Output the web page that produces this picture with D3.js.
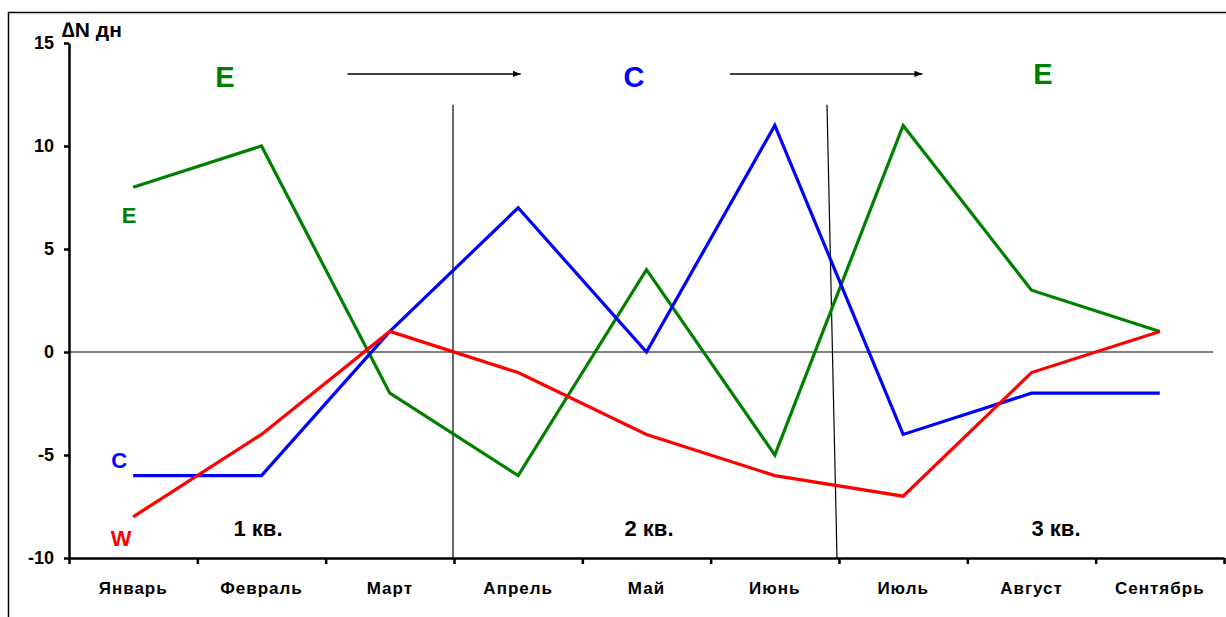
<!DOCTYPE html>
<html>
<head>
<meta charset="utf-8">
<script src="https://cdn.jsdelivr.net/npm/d3@7"></script>
<style>
  html, body { margin: 0; padding: 0; background: #fff; }
  svg { display: block; font-family: "Liberation Sans", Arial, sans-serif; }
</style>
</head>
<body>
<div id="chart"></div>
<script>
// ==== Данные ====
const months = ["Январь", "Февраль", "Март", "Апрель", "Май", "Июнь", "Июль", "Август", "Сентябрь"];
const seriesE = [8, 10, -2, -6, 4, -5, 11, 3, 1];
const seriesC = [-6, -6, 1, 7, 0, 11, -4, -2, -2];
const seriesW = [-8, -4, 1, -1, -4, -6, -7, -1, 1];
const yTicks = [-10, -5, 0, 5, 10, 15];
const quarters = ["1 кв.", "2 кв.", "3 кв."];
const phases = ["E", "C", "E"];

const W = 1226, H = 617;
const margin = { left: 69, right: 2, top: 43, bottom: 59 };

const svg = d3.select("#chart").append("svg")
  .attr("width", W).attr("height", H);

// рамка
svg.append("rect")
  .attr("x", 8.5).attr("y", 12.5)
  .attr("width", W + 10).attr("height", H + 10)
  .attr("fill", "none").attr("stroke", "#000").attr("stroke-width", 1.5);

const x = d3.scaleBand().domain(months).range([margin.left, W - margin.right]).padding(0);
const xl = d3.scaleLinear().domain([0, months.length]).range([margin.left, W - margin.right]);
const y = d3.scaleLinear().domain([-10, 15]).range([H - margin.bottom, margin.top]);
const cx = m => x(m) + x.bandwidth() / 2;

// ось Y
const gy = svg.append("g")
  .attr("transform", `translate(${margin.left},0)`)
  .call(d3.axisLeft(y).tickValues(yTicks).tickSize(5).tickSizeOuter(0).tickPadding(10)
    .tickFormat(d => String(d)));
gy.select(".domain").attr("stroke-width", 2.5);
gy.selectAll(".tick line").attr("stroke-width", 2.5);
gy.selectAll("text").style("font-size", "18px").style("font-weight", "bold").attr("fill", "#000");

// ось X: деления на границах месяцев
const gx = svg.append("g")
  .attr("transform", `translate(0,${y(-10)})`)
  .call(d3.axisBottom(xl).tickValues(d3.range(0, months.length + 1)).tickSize(6).tickSizeOuter(0).tickFormat(""));
gx.select(".domain").attr("stroke-width", 2.5);
gx.selectAll(".tick line").attr("stroke-width", 2.5);

const gxl = svg.append("g")
  .attr("transform", `translate(0,${y(-10)})`)
  .call(d3.axisBottom(x).tickSize(0).tickPadding(24));
gxl.select(".domain").remove();
gxl.selectAll("text").style("font-size", "17px").style("font-weight", "bold")
  .style("letter-spacing", "1px").attr("fill", "#000");

// нулевая линия
svg.append("line")
  .attr("x1", margin.left).attr("x2", W - 13)
  .attr("y1", y(0)).attr("y2", y(0))
  .attr("stroke", "#000").attr("stroke-width", 1);

// разделители кварталов
svg.append("line")
  .attr("x1", xl(3) - 1).attr("x2", xl(3) - 1)
  .attr("y1", y(12)).attr("y2", y(-10))
  .attr("stroke", "#000").attr("stroke-width", 1.2);
svg.append("line")
  .attr("x1", xl(6) - 12).attr("x2", xl(6) - 2)
  .attr("y1", y(12)).attr("y2", y(-10))
  .attr("stroke", "#000").attr("stroke-width", 1.2);

// стрелки
svg.append("defs").append("marker")
  .attr("id", "arr").attr("viewBox", "0 0 10 10")
  .attr("refX", 10).attr("refY", 5)
  .attr("markerWidth", 8).attr("markerHeight", 8)
  .attr("markerUnits", "userSpaceOnUse")
  .attr("orient", "auto")
  .append("path").attr("d", "M0,1 L10,5 L0,9 Z").attr("fill", "#000");
[[2.17, 3.52], [5.15, 6.65]].forEach(([a, b]) => {
  svg.append("line")
    .attr("x1", xl(a)).attr("x2", xl(b))
    .attr("y1", y(13.5)).attr("y2", y(13.5))
    .attr("stroke", "#000").attr("stroke-width", 1.5)
    .attr("marker-end", "url(#arr)");
});

// линии серий
const series = [
  { name: "E", values: seriesE, color: "#008000" },
  { name: "C", values: seriesC, color: "#0000ff" },
  { name: "W", values: seriesW, color: "#ff0000" }
];
const line = d3.line().x((d, i) => cx(months[i])).y(d => y(d));
svg.selectAll(".series")
  .data(series)
  .enter().append("path")
    .attr("class", "series")
    .attr("d", d => line(d.values))
    .attr("fill", "none")
    .attr("stroke", d => d.color)
    .attr("stroke-width", 3.2)
    .attr("stroke-linejoin", "miter");

// подписи серий
const seriesLabels = [
  { t: "E", v: 6.26, color: "#008000", dx: -4 },
  { t: "C", v: -5.63, color: "#0000ff", dx: -14 },
  { t: "W", v: -9.4, color: "#ff0000", dx: -12 }
];
svg.selectAll(".slabel")
  .data(seriesLabels)
  .enter().append("text")
    .attr("x", d => cx(months[0]) + d.dx)
    .attr("y", d => y(d.v))
    .attr("text-anchor", "middle")
    .attr("fill", d => d.color)
    .style("font-size", "22px").style("font-weight", "bold")
    .text(d => d.t);

// фазы вверху
const phaseColors = ["#008000", "#0000ff", "#008000"];
svg.selectAll(".phase")
  .data(phases)
  .enter().append("text")
    .attr("x", (d, i) => [225, 634, 1043][i])
    .attr("y", (d, i) => y(i === 2 ? 13.0 : 12.85))
    .attr("text-anchor", "middle")
    .attr("fill", (d, i) => phaseColors[i])
    .style("font-size", "29px").style("font-weight", "bold")
    .text(d => d);

// кварталы
svg.selectAll(".q")
  .data(quarters)
  .enter().append("text")
    .attr("x", (d, i) => [258, 649, 1056][i])
    .attr("y", y(-8.93))
    .attr("text-anchor", "middle")
    .style("font-size", "22px").style("font-weight", "bold")
    .text(d => d);

// подпись оси Y
svg.append("text")
  .attr("x", 62).attr("y", 37)
  .style("font-size", "21px").style("font-weight", "bold")
  .text("∆N дн");
</script>
</body>
</html>
